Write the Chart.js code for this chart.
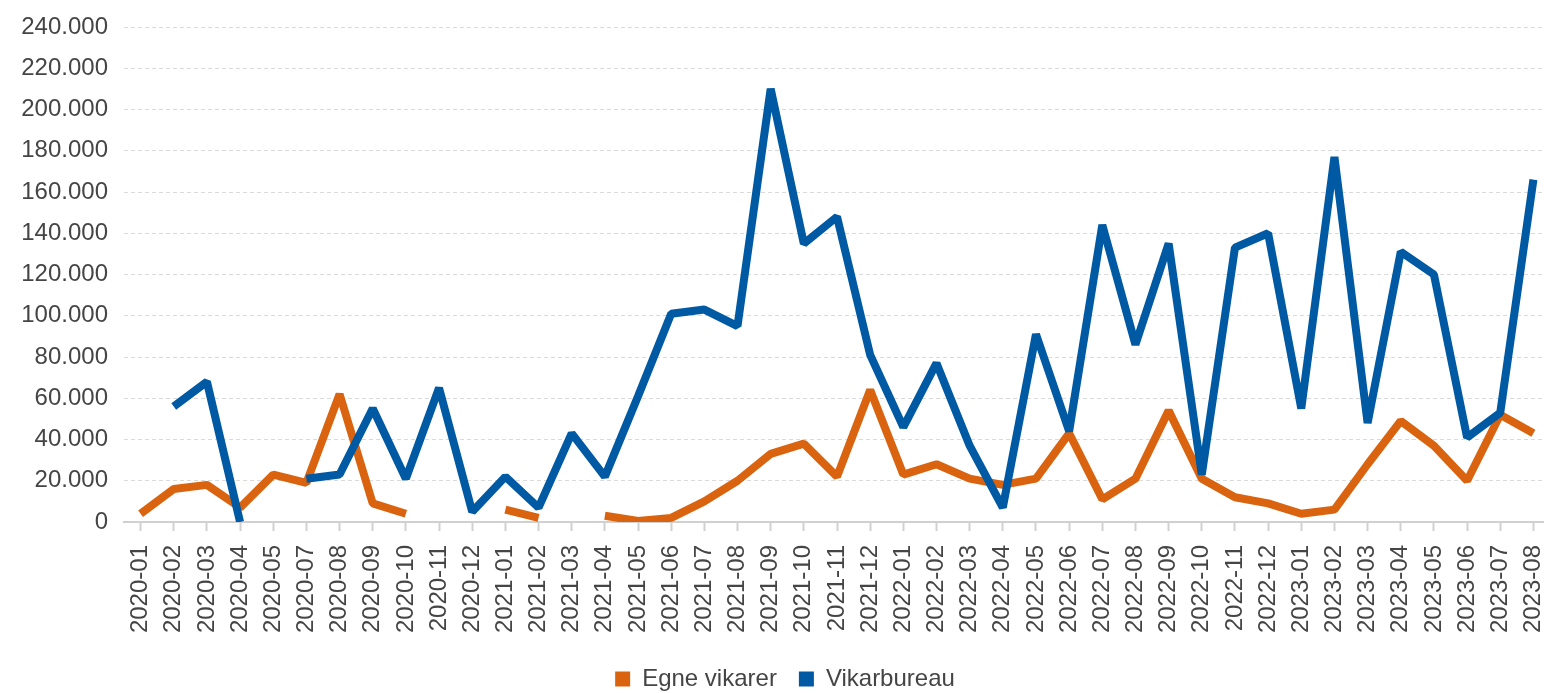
<!DOCTYPE html>
<html>
<head>
<meta charset="utf-8">
<script src="https://cdn.jsdelivr.net/npm/chart.js@4/dist/chart.umd.min.js"></script>
<style>
  html, body { margin: 0; padding: 0; background: #fff; overflow: hidden; }
  #wrap { width: 1550px; height: 693px; position: relative; }
</style>
</head>
<body>
<div id="wrap"><canvas id="c"></canvas></div>
<script>
// Måneder (2020-06 mangler i kilden)
const months = [
  "2020-01", "2020-02", "2020-03", "2020-04", "2020-05", "2020-07", "2020-08", "2020-09", "2020-10", "2020-11", "2020-12",
  "2021-01", "2021-02", "2021-03", "2021-04", "2021-05", "2021-06", "2021-07", "2021-08", "2021-09", "2021-10", "2021-11", "2021-12",
  "2022-01", "2022-02", "2022-03", "2022-04", "2022-05", "2022-06", "2022-07", "2022-08", "2022-09", "2022-10", "2022-11", "2022-12",
  "2023-01", "2023-02", "2023-03", "2023-04", "2023-05", "2023-06", "2023-07", "2023-08"
];

const egneVikarer = [
  4000, 16000, 18000, 7000, 23000, 19000, 62000, 9000, 4000, null, null,
  6000, 2000, null, 3000, 500, 2000, 10000, 20000, 33000, 38000, 22000, 64000,
  23000, 28000, 21000, 18000, 21000, 43000, 11000, 21000, 54000, 21000, 12000, 9000,
  4000, 6000, 28000, 49000, 37000, 20000, 52000, 43000
];

const vikarbureau = [
  null, 56000, 68000, 0, null, 21000, 23000, 55000, 21000, 65000, 5000,
  22000, 7000, 43000, 22000, 61000, 101000, 103000, 95000, 210000, 135000, 148000, 81000,
  46000, 77000, 37000, 7000, 91000, 44000, 144000, 86000, 135000, 23000, 133000, 140000,
  55000, 177000, 48000, 131000, 120000, 41000, 53000, 166000
];

const ORANGE = "#D9630F";
const BLUE = "#0059A3";
const TEXT = "#454545";
const FONT = { family: "'Liberation Sans', Arial, sans-serif", size: 24 };

// 240000 -> "240.000"
const fmt = (v) => String(v).replace(/\B(?=(\d{3})+(?!\d))/g, ".");

new Chart(document.getElementById("c"), {
  type: "line",
  data: {
    labels: months,
    // blå tegnes øverst; legenden vendes så orange står først
    datasets: [
      { label: "Vikarbureau", data: vikarbureau, borderColor: BLUE, backgroundColor: BLUE,
        borderWidth: 8, borderJoinStyle: "bevel", pointRadius: 0, tension: 0, spanGaps: false },
      { label: "Egne vikarer", data: egneVikarer, borderColor: ORANGE, backgroundColor: ORANGE,
        borderWidth: 8, borderJoinStyle: "bevel", pointRadius: 0, tension: 0, spanGaps: false },
    ],
  },
  options: {
    responsive: true,
    maintainAspectRatio: false,
    animation: false,
    layout: { padding: { top: 27, left: 20, right: 0, bottom: -8 } },
    scales: {
      x: {
        offset: true,
        grid: { drawOnChartArea: false, drawTicks: true, tickLength: 9, tickColor: "#d0d0d0", tickWidth: 2 },
        border: { display: true, color: "#d0d0d0", width: 2 },
        ticks: { color: TEXT, font: FONT, minRotation: 90, maxRotation: 90, padding: 14, autoSkip: false },
        // den sidste etiket skal ikke skubbe plotområdet ind fra højre
        afterFit: (s) => { s.height = 123; s.paddingRight = 0; s.paddingLeft = 0; },
      },
      y: {
        min: 0,
        max: 240000,
        grid: { color: "#dadada", drawTicks: false },
        border: { display: false, dash: [4, 3] },
        ticks: { stepSize: 20000, color: TEXT, font: FONT, padding: 16, callback: (v) => fmt(v) },
        afterFit: (s) => { s.width = 104; s.paddingTop = 0; s.paddingBottom = 0; },
      },
    },
    plugins: {
      legend: {
        position: "bottom",
        reverse: true,
        labels: {
          color: TEXT,
          font: FONT,
          boxWidth: 15,
          boxHeight: 15,
          padding: 22,
          generateLabels: (chart) => {
            const items = Chart.defaults.plugins.legend.labels.generateLabels(chart);
            items.forEach((it) => { it.lineWidth = 0; });
            return items;
          },
        },
      },
      tooltip: { enabled: false },
    },
  },
});
</script>
</body>
</html>
